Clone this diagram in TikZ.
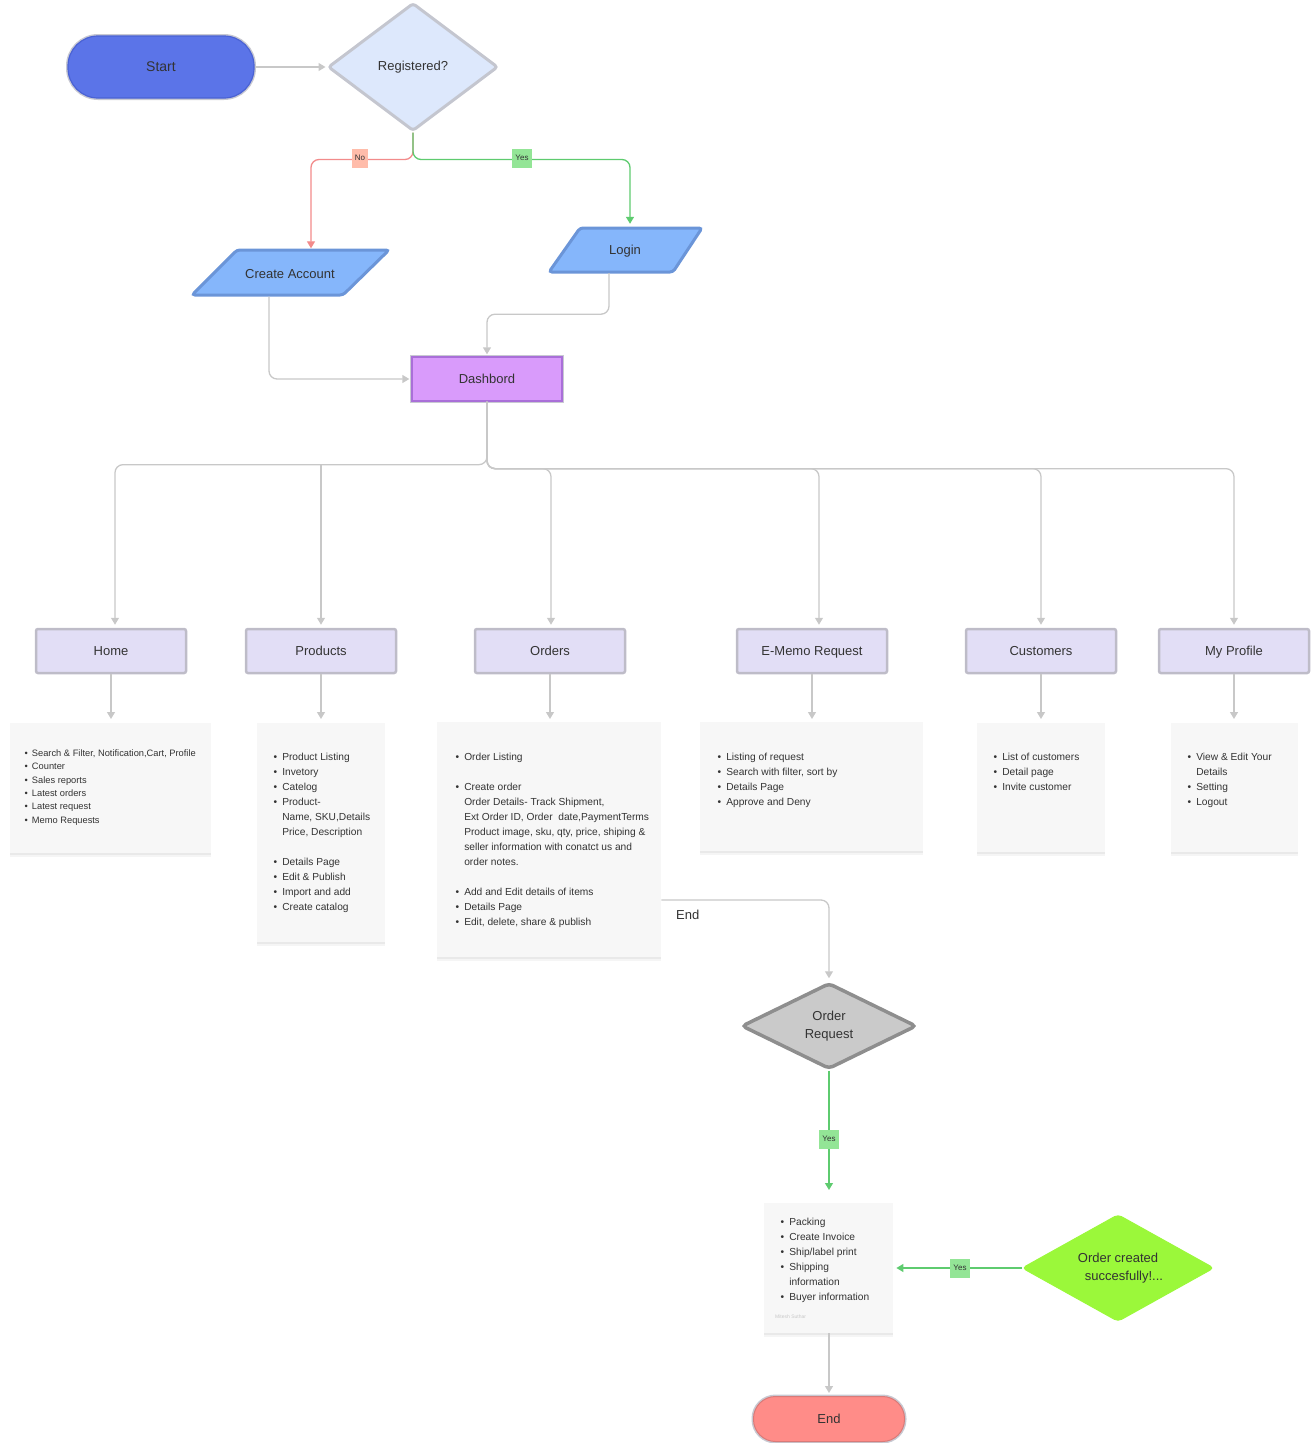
\documentclass[tikz,border=0pt]{standalone}
\usepackage{fontspec}
\setmainfont{Liberation Sans}
\usetikzlibrary{shapes.geometric,arrows.meta,shadows,calc}
\definecolor{txt}{HTML}{333333}
\definecolor{conngray}{HTML}{C8C8C8}
\definecolor{conngreen}{HTML}{5ECB6F}
\definecolor{connred}{HTML}{F28B8B}
\definecolor{nofill}{HTML}{FFBCAA}
\definecolor{yesfill}{HTML}{93E596}
\definecolor{startfill}{HTML}{5B74E8}
\definecolor{startdraw}{HTML}{4A62D4}
\definecolor{outergray}{HTML}{C8C9D2}
\definecolor{regfill}{HTML}{DDE8FC}
\definecolor{regdraw}{HTML}{C4C6CF}
\definecolor{parafill}{HTML}{85B6FB}
\definecolor{paradraw}{HTML}{6B95D8}
\definecolor{dbfill}{HTML}{D99BFB}
\definecolor{dbdraw}{HTML}{A96FD8}
\definecolor{hdrfill}{HTML}{E2DEF6}
\definecolor{hdrdraw}{HTML}{BEBCC8}
\definecolor{cardfill}{HTML}{F7F7F7}
\definecolor{orfill}{HTML}{CACACA}
\definecolor{ordraw}{HTML}{8E8E8E}
\definecolor{ocfill}{HTML}{9BF83A}
\definecolor{endfill}{HTML}{FF8C88}
\definecolor{enddraw}{HTML}{D97A78}
\definecolor{sign}{HTML}{C8C8C8}
\tikzset{
  conn/.style={draw=conngray, line width=1.3pt, rounded corners=8pt, -{Triangle[width=8pt,length=7pt]}},
  gconn/.style={conn, draw=conngreen},
  rconn/.style={conn, draw=connred},
  hdr/.style={rectangle, fill=hdrfill, draw=hdrdraw, line width=2.5pt, rounded corners=2pt,
    minimum width=150pt, minimum height=44pt, font=\fontsize{13}{15}\selectfont, text=txt,
    text height=10.5pt, text depth=1.2pt},
  card/.style={rectangle, fill=cardfill, inner sep=0pt, anchor=north west,
    drop shadow={shadow xshift=0pt, shadow yshift=-2pt, opacity=0.05, fill=black},
    drop shadow={shadow xshift=0pt, shadow yshift=-4pt, opacity=0.04, fill=black}},
  cardtxt/.style={anchor=north west, inner sep=0pt, text=txt, font=\fontsize{10.2}{15}\selectfont},
  lbl/.style={inner xsep=3pt, inner ysep=0pt, minimum height=19pt, font=\fontsize{8}{10}\selectfont, text=txt},
  bigtxt/.style={font=\fontsize{13}{18}\selectfont, text=txt},
}
\begin{document}
\begin{tikzpicture}[x=1pt,y=-1pt]
\useasboundingbox (0,0) rectangle (1312,1443);

% ---------- top ----------
\node[bigtxt, rectangle, rounded corners=30pt, minimum width=186pt, minimum height=62pt,
  fill=startfill, preaction={draw=outergray, line width=4pt}, draw=startdraw, line width=1.2pt,
  font=\fontsize{14}{16}\selectfont] (start) at (161,67) {Start};
\node[bigtxt, diamond, aspect=1.33, minimum width=170pt, minimum height=128pt, inner sep=0pt,
  fill=regfill, draw=regdraw, line width=3pt, rounded corners=3pt] (reg) at (413,67) {Registered?};

\filldraw[fill=parafill, draw=paradraw, line width=3pt, rounded corners=3pt]
  (237,250) -- (389,250) -- (343,295) -- (192,295) -- cycle;
\node[bigtxt, minimum width=150pt, minimum height=45pt] (ca) at (290,274) {Create Account};
\filldraw[fill=parafill, draw=paradraw, line width=3pt, rounded corners=3pt]
  (580,228) -- (702,228) -- (673,272) -- (549,272) -- cycle;
\node[bigtxt, minimum width=120pt, minimum height=44pt] (lg) at (625,251) {Login};

\node[bigtxt, rectangle, minimum width=150pt, minimum height=44pt, fill=dbfill,
  preaction={draw=outergray, line width=4pt}, draw=dbdraw, line width=1.3pt] (db) at (487,379) {Dashbord};

\draw[conn, shorten >=1pt] (start.east) -- (reg.west);
\draw[rconn, shorten >=3pt] (reg.south) -- ++(0,27) -| ([xshift=21pt]ca.north);
\draw[gconn, shorten >=5pt] (reg.south) -- ++(0,27) -| ([xshift=5pt]lg.north);
\node[lbl, fill=nofill] (nolbl) at (360,158) {No};
\node[lbl, fill=yesfill] (yeslbl) at (522,158) {Yes};
\draw[conn, shorten >=2pt] ([xshift=-21pt]ca.south) |- (db.west);
\draw[conn, shorten >=2pt] ([xshift=-16pt]lg.south) -- ++(0,41) -| (db.north);

% ---------- headers ----------
\node[hdr] (home) at (111,651) {Home};
\node[hdr] (prod) at (321,651) {Products};
\node[hdr] (ord)  at (550,651) {Orders};
\node[hdr] (memo) at (812,651) {E-Memo Request};
\node[hdr] (cust) at (1041,651) {Customers};
\node[hdr] (prof) at (1234,651) {My Profile};

\draw[conn, shorten >=3pt] (db.south) -- ++(0,63) -| ([xshift=4pt]home.north);
\coordinate (busL) at (321,465);
\draw[conn, shorten >=3pt] (prod.north |- busL) -- (prod.north);
\draw[conn, shorten >=3pt] (db.south) -- ++(0,67) -| ([xshift=1pt]ord.north);
\draw[conn, shorten >=3pt] (db.south) -- ++(0,67) -| ([xshift=7pt]memo.north);
\draw[conn, shorten >=3pt] (db.south) -- ++(0,67) -| (cust.north);
\draw[conn, shorten >=3pt] (db.south) -- ++(0,67) -| (prof.north);

% ---------- cards ----------
\node[card, minimum width=201pt, minimum height=130pt] (hc) at (10,723) {};
\node[card, minimum width=128pt, minimum height=219pt] (pc) at (257,723) {};
\node[card, minimum width=224pt, minimum height=235pt] (oc) at (437,722) {};
\node[card, minimum width=223pt, minimum height=129pt] (mc) at (700,722) {};
\node[card, minimum width=128pt, minimum height=129pt] (cc) at (977,723) {};
\node[card, minimum width=127pt, minimum height=129pt] (fc) at (1171,723) {};

\draw[conn, shorten >=4pt] (home.south) -- (home.south |- hc.north);
\draw[conn, shorten >=4pt] (prod.south) -- (prod.south |- pc.north);
\draw[conn, shorten >=3pt] (ord.south) -- (ord.south |- oc.north);
\draw[conn, shorten >=3pt] (memo.south) -- (memo.south |- mc.north);
\draw[conn, shorten >=4pt] (cust.south) -- (cust.south |- cc.north);
\draw[conn, shorten >=4pt] (prof.south) -- (prof.south |- fc.north);

\node[cardtxt, font=\fontsize{9.3}{13.3}\selectfont] (hct) at (24.5,747) {%
\begin{tabular}{@{}l@{\hspace{4pt}}l@{}}
• & Search \& Filter, Notification,Cart, Profile\\
• & Counter\\
• & Sales reports\\
• & Latest orders\\
• & Latest request\\
• & Memo Requests
\end{tabular}};

\node[cardtxt] (pct) at (273.5,749.5) {%
\begin{tabular}{@{}l@{\hspace{5pt}}l@{}}
• & Product Listing\\
• & Invetory\\
• & Catelog\\
• & Product-\\
  & Name, SKU,Details\\
  & Price, Description\\
  & \\
• & Details Page\\
• & Edit \& Publish\\
• & Import and add\\
• & Create catalog
\end{tabular}};

\node[cardtxt] (oct) at (455.5,749.5) {%
\begin{tabular}{@{}l@{\hspace{5pt}}l@{}}
• & Order Listing\\
  & \\
• & Create order\\
  & Order Details- Track Shipment,\\
  & Ext Order ID, Order\ \ date,PaymentTerms\\
  & Product image, sku, qty, price, shiping \&\\
  & seller information with conatct us and\\
  & order notes.\\
  & \\
• & Add and Edit details of items\\
• & Details Page\\
• & Edit, delete, share \& publish
\end{tabular}};

\node[cardtxt] (mct) at (717.5,749.5) {%
\begin{tabular}{@{}l@{\hspace{5pt}}l@{}}
• & Listing of request\\
• & Search with filter, sort by\\
• & Details Page\\
• & Approve and Deny
\end{tabular}};

\node[cardtxt] (cct) at (993.5,749.5) {%
\begin{tabular}{@{}l@{\hspace{5pt}}l@{}}
• & List of customers\\
• & Detail page\\
• & Invite customer
\end{tabular}};

\node[cardtxt] (fct) at (1187.5,749.5) {%
\begin{tabular}{@{}l@{\hspace{5pt}}l@{}}
• & View \& Edit Your\\
  & Details\\
• & Setting\\
• & Logout
\end{tabular}};

% ---------- order flow ----------
\node[bigtxt, diamond, aspect=2.03, minimum width=175pt, minimum height=86pt, inner sep=0pt, align=center,
  fill=orfill, draw=ordraw, line width=3.5pt, rounded corners=4pt] (or) at (829,1026) {Order\\Request};
\draw[conn, shorten >=3pt] (oc.east |- 0,900) -| (or.north);
\node[bigtxt, anchor=west, inner sep=0pt] (endlbl) at (676,915) {End};

\node[card, minimum width=129pt, minimum height=130pt] (pk) at (764,1203) {};
\node[cardtxt] (pkt) at (780.5,1214.5) {%
\begin{tabular}{@{}l@{\hspace{5pt}}l@{}}
• & Packing\\
• & Create Invoice\\
• & Ship/label print\\
• & Shipping\\
  & information\\
• & Buyer information
\end{tabular}};
\node[anchor=west, inner sep=0pt, text=sign, font=\fontsize{5}{6}\selectfont] (sig) at (775,1317) {Mitesh Suthar};

\draw[gconn, shorten >=13pt] (or.south) -- (or.south |- pk.north);
\node[lbl, fill=yesfill] (yes2) at (829,1139) {Yes};

\node[bigtxt, diamond, aspect=1.79, minimum width=192pt, minimum height=107pt, inner sep=0pt, align=center,
  fill=ocfill, draw=ocfill, line width=1pt, rounded corners=4pt] (ocs) at (1118,1268)
  {Order created\\\hspace*{12pt}succesfully!...};
\draw[gconn, shorten >=3pt] (ocs.west) -- (ocs.west -| pk.east);
\node[lbl, fill=yesfill] (yes3) at (960,1268) {Yes};

\node[bigtxt, rectangle, rounded corners=22pt, minimum width=151pt, minimum height=45pt,
  fill=endfill, preaction={draw=outergray, line width=4pt}, draw=enddraw, line width=1pt] (endn) at (829,1419) {End};
\draw[conn, shorten >=3pt] (endn.north |- pk.south) -- (endn.north);
\end{tikzpicture}
\end{document}
